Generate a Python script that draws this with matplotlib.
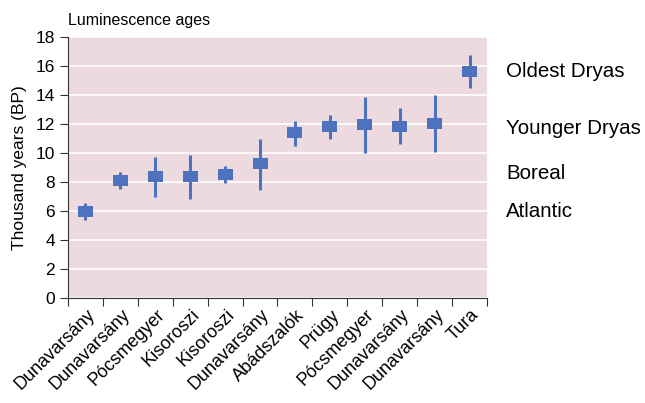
import matplotlib.pyplot as plt
import numpy as np

plt.rcParams['font.family'] = ['Liberation Sans', 'DejaVu Sans']

# luminescence ages, thousand years BP
sites = ['Dunavarsány', 'Dunavarsány', 'Pócsmegyer', 'Kisoroszi', 'Kisoroszi',
         'Dunavarsány', 'Abádszalók', 'Prügy', 'Pócsmegyer', 'Dunavarsány',
         'Dunavarsány', 'Tura']
age = [6.0, 8.1, 8.4, 8.35, 8.5, 9.25, 11.4, 11.8, 12.0, 11.85, 12.05, 15.65]
err_hi = [6.55, 8.7, 9.7, 9.9, 9.1, 11.0, 12.2, 12.6, 13.9, 13.1, 14.0, 16.75]
err_lo = [5.4, 7.5, 7.0, 6.8, 7.9, 7.45, 10.5, 11.0, 10.0, 10.6, 10.05, 14.5]

periods = ['Oldest Dryas', 'Younger Dryas', 'Boreal', 'Atlantic']
period_y = [15.6, 11.7, 8.6, 6.0]

blue = '#4f72be'
box_h = 0.76

fig = plt.figure(figsize=(6.45, 4.03), dpi=100)
ax = fig.add_axes([0.1054, 0.2605, 0.6496, 0.6475])
ax.set_facecolor('#ecdadf')

x = np.arange(len(sites))
ax.vlines(x, err_lo, err_hi, color=blue, lw=2.2, zorder=3)
ax.bar(x, box_h, bottom=np.array(age) - box_h / 2, width=0.43, color=blue, zorder=4)

ax.set_xlim(-0.5, len(sites) - 0.5)
ax.set_ylim(0, 18)
ax.set_yticks(range(0, 19, 2))
ax.grid(axis='y', color='white', lw=1.2)
ax.set_axisbelow(True)

ax.set_xticks(np.arange(-0.5, len(sites), 1))
ax.set_xticklabels([])
ax.set_xticks(x + 0.02, minor=True)
ax.set_xticklabels(sites, minor=True, rotation=45, ha='right', rotation_mode='anchor', fontsize=13)
ax.tick_params(axis='x', which='minor', length=0, pad=6)
ax.tick_params(axis='x', which='major', length=6, color='#333333')
ax.tick_params(axis='y', length=6, color='#333333', labelsize=12.5)

for s in ['top', 'right']:
    ax.spines[s].set_visible(False)
for s in ['left', 'bottom']:
    ax.spines[s].set_color('#333333')

ax.set_ylabel('Thousand years (BP)', fontsize=12.5, labelpad=6)
ax.text(0, 1.045, 'Luminescence ages', transform=ax.transAxes, fontsize=11.5)

for name, yv in zip(periods, period_y):
    ax.text(len(sites) - 0.5 + 0.55, yv, name, fontsize=14.8, va='center', clip_on=False)

fig.savefig('out.png', dpi=100)
